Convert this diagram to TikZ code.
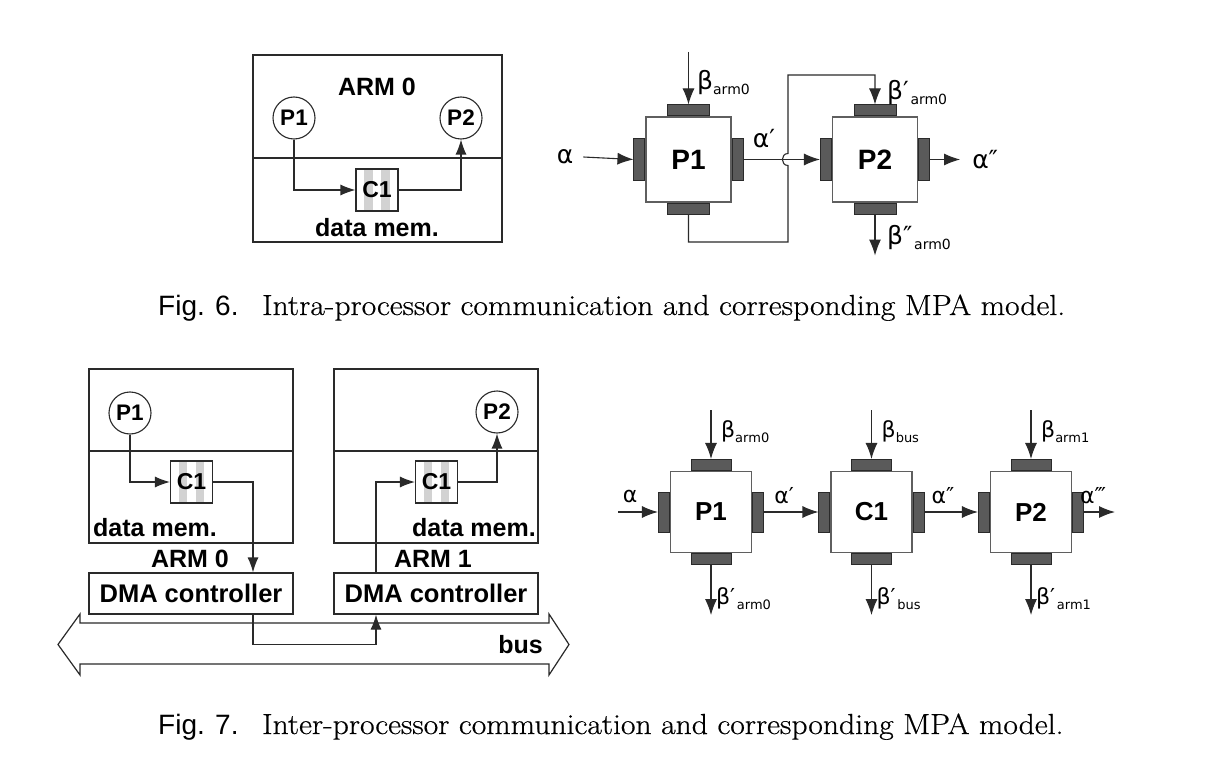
\documentclass[tikz,border=0pt]{standalone}
\usepackage{fontspec}
\newfontfamily\lsans{Liberation Sans}
\newfontfamily\gsans{DejaVu Sans}
\newfontfamily\capserif[FakeBold=0.5]{Latin Modern Roman}
\usetikzlibrary{arrows.meta}
\definecolor{linec}{HTML}{2A2A2A}
\definecolor{tabc}{HTML}{5A5A5A}
\definecolor{stripec}{HTML}{D2D2D2}
\newcommand\gk[1]{{\gsans\fontsize{22}{24}\selectfont #1}}
\newcommand\gkA[1]{{\gsans\fontsize{25}{27}\selectfont #1}}
\newcommand\sbs[1]{\raisebox{-5pt}{\gsans\fontsize{13}{15}\selectfont #1}}
\newcommand\sbsA[1]{\raisebox{-5pt}{\gsans\fontsize{14}{16}\selectfont #1}}
\newcommand\mpablk[6]{%
  \node[mpabox, minimum size=#3, font=\lsans\bfseries\fontsize{#6}{#6}\selectfont] (#1) at (#2) {#5};
  \node[tabv, minimum width=#4, anchor=south] (#1-t) at (#1.north) {};
  \node[tabv, minimum width=#4, anchor=north] (#1-b) at (#1.south) {};
  \node[tabh, minimum height=#4, anchor=east] (#1-l) at (#1.west) {};
  \node[tabh, minimum height=#4, anchor=west] (#1-r) at (#1.east) {};
}
\tikzset{
  x=1pt, y=-1pt,
  every node/.style={inner sep=0pt},
  lbl/.style={font=\lsans\bfseries\fontsize{25}{28}\selectfont},
  framebox/.style={draw=linec, line width=1.2pt},
  proc/.style={circle, draw=linec, line width=1.1pt, fill=white, minimum size=42pt,
    font=\lsans\bfseries\fontsize{22.5}{24}\selectfont},
  chan/.style={draw=linec, line width=1.1pt, minimum size=42pt,
    font=\lsans\bfseries\fontsize{23}{24}\selectfont,
    path picture={
      \fill[stripec] ([xshift=8.4pt]path picture bounding box.north west) rectangle ([xshift=16.8pt]path picture bounding box.south west);
      \fill[stripec] ([xshift=25.2pt]path picture bounding box.north west) rectangle ([xshift=33.6pt]path picture bounding box.south west);
    }},
  dma/.style={draw=linec, line width=1.2pt, minimum width=204pt, minimum height=41pt,
    font=\lsans\bfseries\fontsize{25.5}{27}\selectfont},
  arr/.style={draw=linec, line width=1.2pt, -{Latex[length=15pt,width=11pt]}},
  marr/.style={draw=linec, line width=1.1pt, -{Latex[length=16pt,width=12pt]}},
  plainln/.style={draw=linec, line width=1.2pt},
  mpabox/.style={draw=linec!75, line width=1.1pt, fill=white},
  tabv/.style={draw=linec, line width=1pt, fill=tabc, minimum height=11pt},
  tabh/.style={draw=linec, line width=1pt, fill=tabc, minimum width=11pt},
  figcap/.style={anchor=base west, font=\lsans\fontsize{28}{30}\selectfont},
  figcapt/.style={anchor=base west, font=\capserif\fontsize{29}{31}\selectfont},
}
\begin{document}
\begin{tikzpicture}
\useasboundingbox (0,0) rectangle (1226,770);
\fill[white] (0,0) rectangle (1226,770);

% ---------------- Fig 6 left ----------------
\node[framebox, minimum width=249pt, minimum height=187pt] (arm0a) at (377.5,148.5) {};
\draw[plainln] (arm0a.west |- 0,158) -- (arm0a.east |- 0,158);
\node[lbl] (arm0lbl) at (377,87) {ARM 0};
\node[proc] (P1a) at (294,118) {P1};
\node[proc] (P2a) at (461,118) {P2};
\node[chan] (C1a) at (377,190) {C1};
\node[lbl] (dma6) at (377,228) {data mem.};
\draw[arr] (P1a.south) |- (C1a.west);
\draw[arr] (C1a.east) -| (P2a.south);

% ---------------- Fig 6 right ----------------
\mpablk{mA}{688.5,159.5}{85pt}{42pt}{P1}{28}
\mpablk{mB}{875,159.5}{85pt}{42pt}{P2}{28}
\node (al6) at (565,157) {\gkA{α}};
\draw[marr] ([xshift=10pt]al6.east) -- (mA-l.west);
\node (alp6) at (764,139) {\gkA{α′}};
\draw[marr] (mA-r.east) -- (mB-l.west);
\draw[marr] (mB-r.east) -- ++(30,0) coordinate (o6);
\node[anchor=west] (alpp6) at ([xshift=12pt]o6) {\gkA{α″}};
\node[anchor=west] (b6) at (697,83) {\gkA{β}\sbsA{arm0}};
\draw[marr] (688.5,52) -- (mA-t.north);
\draw[marr] (mA-b.south) |- (788,242) -- (788,165.5)
   .. controls (780.5,165.5) and (780.5,153.5) .. (788,153.5)
   -- (788,75) -| (mB-t.north);
\node[anchor=west] (bp6) at (887,93) {\gkA{β′}\,\sbsA{arm0}};
\draw[marr] (mB-b.south) -- ++(0,41) coordinate (bo6);
\node[anchor=west] (bpp6) at (887,238) {\gkA{β″}\,\sbsA{arm0}};

% caption 6
\node[figcap] (c6a) at (158,315) {Fig. 6.};
\node[figcapt] (c6b) at (262,315) {\scalebox{1.09}[1]{Intra-processor communication and corresponding MPA model.}};

% ---------------- Fig 7 left ----------------
\node[framebox, minimum width=204pt, minimum height=174pt] (arm0b) at (191,456) {};
\draw[plainln] (arm0b.west |- 0,451) -- (arm0b.east |- 0,451);
\node[proc] (P1b) at (130,413) {P1};
\node[chan] (C1b) at (191.5,482) {C1};
\node[lbl, anchor=west] (dm7a) at (93,528) {data mem.};
\node[lbl] (arm0t) at (190,559) {ARM 0};
\node[dma] (DMA0) at (191,593.5) {DMA controller};

\node[framebox, minimum width=204pt, minimum height=174pt] (arm1b) at (436,456) {};
\draw[plainln] (arm1b.west |- 0,451) -- (arm1b.east |- 0,451);
\node[proc] (P2b) at (497,412) {P2};
\node[chan] (C1c) at (436.5,482) {C1};
\node[lbl, anchor=east] (dm7b) at (536,528) {data mem.};
\node[lbl] (arm1t) at (433,559) {ARM 1};
\node[dma] (DMA1) at (436,593.5) {DMA controller};

\draw[plainln, fill=white] (58,644.5) -- (80,614) -- (80,623) -- (549,623) -- (549,614) -- (569,644.5)
   -- (549,675) -- (549,664) -- (80,664) -- (80,675) -- cycle;
\node[lbl, anchor=east] (bus) at (543,645) {bus};

\draw[arr] (P1b.south) |- (C1b.west);
\draw[arr] (C1b.east) -| ([xshift=62pt]DMA0.north);
\draw[arr] ([xshift=62pt]DMA0.south) -- ++(0,30) -| ([xshift=-60pt]DMA1.south);
\draw[arr] ([xshift=-60pt]DMA1.north) |- (C1c.west);
\draw[arr] (C1c.east) -| (P2b.south);

% ---------------- Fig 7 right ----------------
\mpablk{nA}{711,512}{81pt}{40pt}{P1}{26}
\mpablk{nB}{871.5,512}{81pt}{40pt}{C1}{26}
\mpablk{nC}{1031,512}{81pt}{40pt}{P2}{26}
\node (al7) at (630,496) {\gk{α}};
\draw[marr] (618,512) -- (nA-l.west);
\draw[marr] (nA-r.east) -- (nB-l.west);
\node (alp7) at (784,496) {\gk{α′}};
\draw[marr] (nB-r.east) -- (nC-l.west);
\node (alpp7) at (943,496) {\gk{α″}};
\draw[marr] (nC-r.east) -- (1115,512);
\node (alppp7) at (1093,496) {\gk{α‴}};

\draw[marr] (711,410) -- (nA-t.north);
\draw[marr] (871.5,410) -- (nB-t.north);
\draw[marr] (1031,410) -- (nC-t.north);
\node[anchor=west] (bA) at (721,432) {\gk{β}\sbs{arm0}};
\node[anchor=west] (bB) at (881.5,432) {\gk{β}\sbs{bus}};
\node[anchor=west] (bC) at (1041,432) {\gk{β}\sbs{arm1}};
\draw[marr] (nA-b.south) -- ++(0,50);
\draw[marr] (nB-b.south) -- ++(0,50);
\draw[marr] (nC-b.south) -- ++(0,50);
\node[anchor=west] (bpA) at (716,599) {\gk{β′}\,\sbs{arm0}};
\node[anchor=west] (bpB) at (876.5,599) {\gk{β′}\,\sbs{bus}};
\node[anchor=west] (bpC) at (1036,599) {\gk{β′}\,\sbs{arm1}};

% caption 7
\node[figcap] (c7a) at (158,734) {Fig. 7.};
\node[figcapt] (c7b) at (262,734) {\scalebox{1.09}[1]{Inter-processor communication and corresponding MPA model.}};
\end{tikzpicture}
\end{document}
